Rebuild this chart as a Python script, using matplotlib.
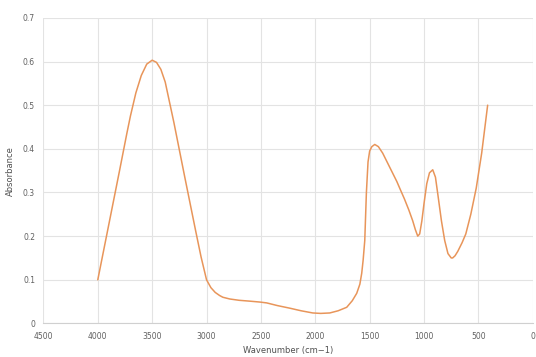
import numpy as np
import matplotlib
matplotlib.use('Agg')
import matplotlib.pyplot as plt

# FTIR spectrum
wavenumber = [4000, 3900, 3800, 3733, 3700, 3650, 3600, 3550, 3500,
              3460, 3420, 3380, 3300, 3200, 3126, 3100, 3050, 3000,
              2960, 2920, 2880, 2850, 2786, 2700, 2600, 2510, 2446, 2350, 2235,
              2130, 2023, 1950, 1867, 1790, 1711, 1660, 1619, 1590, 1573,
              1560, 1545, 1530, 1515, 1500, 1480, 1453, 1420, 1380, 1330,
              1280, 1250, 1224, 1180, 1140, 1104, 1080, 1058, 1040, 1020,
              1000, 975, 950, 920, 895, 870, 840, 810, 780, 750,
              737, 715, 690, 650, 616, 570, 520, 470, 415]
absorbance = [0.10, 0.225, 0.35, 0.435, 0.475, 0.528, 0.568, 0.594, 0.603,
              0.598, 0.582, 0.553, 0.46, 0.335, 0.244, 0.212, 0.152, 0.10,
              0.082, 0.071, 0.064, 0.060, 0.056, 0.053, 0.051, 0.049, 0.047, 0.041, 0.035,
              0.029, 0.024, 0.023, 0.024, 0.029, 0.037, 0.052, 0.069, 0.09, 0.115,
              0.145, 0.19, 0.30, 0.37, 0.395, 0.405, 0.41, 0.405, 0.39, 0.365,
              0.34, 0.325, 0.31, 0.285, 0.26, 0.235, 0.215, 0.20, 0.205, 0.235,
              0.275, 0.32, 0.345, 0.352, 0.335, 0.29, 0.235, 0.19, 0.16, 0.15,
              0.15, 0.155, 0.165, 0.185, 0.205, 0.25, 0.31, 0.39, 0.50]

x_ticks = [4500, 4000, 3500, 3000, 2500, 2000, 1500, 1000, 500, 0]
y_ticks = [0, 0.1, 0.2, 0.3, 0.4, 0.5, 0.6, 0.7]

fig = plt.figure(figsize=(5.36, 3.57), dpi=100)
ax = fig.add_axes([0.081, 0.094, 0.913, 0.856])

ax.plot(wavenumber, absorbance, color='#E8955A', linewidth=1.1,
        solid_capstyle='round', solid_joinstyle='round')

ax.set_xlim(4500, 0)
ax.set_ylim(0, 0.7)
ax.set_xticks(x_ticks)
ax.set_xticklabels([str(t) for t in x_ticks])
ax.set_yticks(y_ticks)
ax.set_yticklabels(['0'] + ['%.1f' % t for t in y_ticks[1:]])

ax.grid(True, color='#E3E3E3', linewidth=0.8)
ax.set_axisbelow(True)
for s in ['top', 'right', 'left']:
    ax.spines[s].set_visible(False)
ax.spines['bottom'].set_color('#D0D0D0')
ax.spines['bottom'].set_linewidth(0.8)
ax.tick_params(length=0, labelsize=5.5, labelcolor='#606060', pad=6)

ax.set_xlabel('Wavenumber (cm\u22121)', fontsize=6, color='#505050', labelpad=4)
ax.set_ylabel('Absorbance', fontsize=6, color='#505050', labelpad=6)

fig.savefig('out.png', dpi=100)
